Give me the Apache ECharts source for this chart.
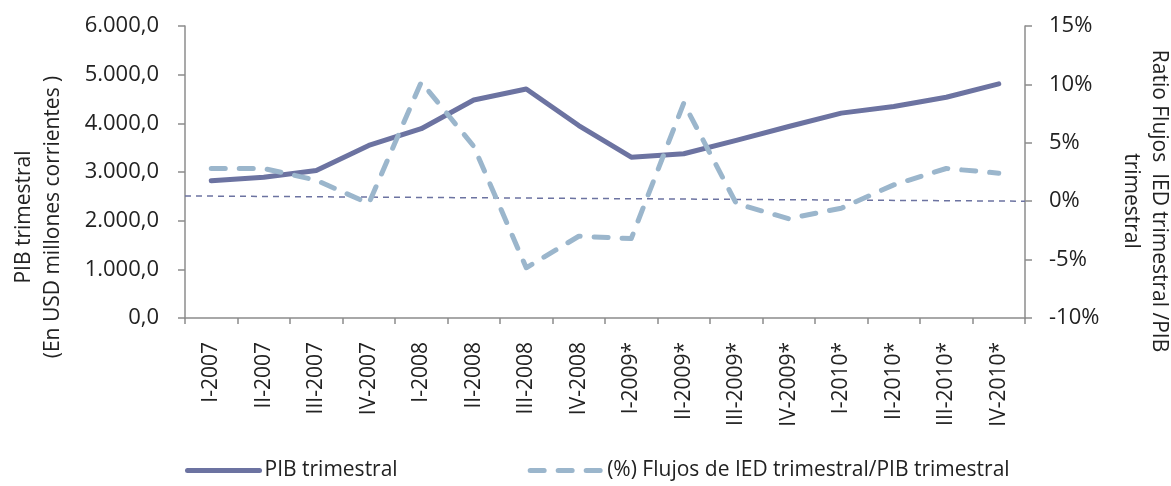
<!DOCTYPE html>
<html>
<head>
<meta charset="utf-8">
<script src="https://cdn.jsdelivr.net/npm/echarts@6/dist/echarts.min.js"></script>
<style>
  html, body { margin: 0; padding: 0; background: #fff; }
  #chart { width: 1171px; height: 486px; }
</style>
</head>
<body>
<div id="chart"></div>
<script>
// trimestres
const categories = ['I-2007', 'II-2007', 'III-2007', 'IV-2007', 'I-2008', 'II-2008', 'III-2008', 'IV-2008',
  'I-2009*', 'II-2009*', 'III-2009*', 'IV-2009*', 'I-2010*', 'II-2010*', 'III-2010*', 'IV-2010*']

// PIB trimestral (USD millones)
const pibTrimestral = [2820, 2890, 3030, 3545, 3890, 4480, 4705, 3955,
  3305, 3375, 3650, 3935, 4210, 4345, 4535, 4810]

// (%) Flujos IED / PIB
const ratioIed = [2.8, 2.8, 1.8, -0.2, 10.2, 4.7, -5.7, -3.0,
  -3.2, 8.4, -0.2, -1.5, -0.6, 1.4, 2.8, 2.4]

// linea de tendencia (extremos)
const trendX = [0, 16]
const trendY = [0.45, 0.0]

const font = '"Open Sans", "DejaVu Sans", sans-serif'
const colorPib = '#6c73a1'
const colorRatio = '#9bb6cc'
const axisGray = '#8c8c8c'

const chart = echarts.init(document.getElementById('chart'))

const fmtMiles = (v) => {
  const s = Math.round(v).toString().replace(/\B(?=(\d{3})+(?!\d))/g, '.')
  return s + ',0'
}

chart.setOption({
  animation: false,
  textStyle: { fontFamily: font },
  grid: { left: 185, right: 146, top: 26, bottom: 168, outerBoundsMode: 'none' },
  legend: {
    bottom: 0,
    left: 180,
    itemWidth: 72,
    itemHeight: 14,
    itemGap: 130,
    itemStyle: { opacity: 0 },
    textStyle: { fontSize: 21, color: '#222', fontFamily: font },
    data: [
      { name: 'PIB trimestral', lineStyle: { width: 5 } },
      { name: '(%) Flujos de IED trimestral/PIB trimestral', lineStyle: { width: 5 } }
    ]
  },
  xAxis: [
    {
      type: 'category',
      data: categories,
      boundaryGap: true,
      axisLine: { lineStyle: { color: axisGray, width: 1.5 } },
      axisTick: { show: true, length: 6, lineStyle: { color: axisGray, width: 1.5 } },
      axisLabel: { rotate: 90, fontSize: 21, color: '#222', margin: 24, fontFamily: font },
      splitLine: { show: false }
    },
    {
      type: 'value',
      min: 0,
      max: 16,
      show: false
    }
  ],
  yAxis: [
    {
      type: 'value',
      min: 0,
      max: 6000,
      interval: 1000,
      position: 'left',
      name: 'PIB trimestral\n(En USD millones corrientes )',
      nameLocation: 'middle',
      nameGap: 117,
      nameTextStyle: { fontSize: 21, color: '#222', lineHeight: 29, fontFamily: font, padding: [0, 90, 0, 0] },
      axisLine: { show: true, lineStyle: { color: axisGray, width: 1.5 } },
      axisTick: { show: true, length: 7, lineStyle: { color: axisGray, width: 1.5 } },
      axisLabel: { fontSize: 22, color: '#222', margin: 26, formatter: fmtMiles, fontFamily: font },
      splitLine: { show: false }
    },
    {
      type: 'value',
      min: -10,
      max: 15,
      interval: 5,
      position: 'right',
      name: 'Ratio Flujos  IED trimestral /PIB\ntrimestral',
      nameLocation: 'middle',
      nameRotate: -90,
      nameGap: 92,
      nameTextStyle: { fontSize: 21, color: '#222', lineHeight: 28, fontFamily: font, padding: [0, 0, 0, 58] },
      axisLine: { show: true, lineStyle: { color: axisGray, width: 1.5 } },
      axisTick: { show: true, length: 7, lineStyle: { color: axisGray, width: 1.5 } },
      axisLabel: { fontSize: 22, color: '#222', margin: 24, formatter: '{value}%', fontFamily: font },
      splitLine: { show: false }
    }
  ],
  series: [
    {
      name: 'PIB trimestral',
      type: 'line',
      data: pibTrimestral,
      xAxisIndex: 0,
      yAxisIndex: 0,
      symbol: 'none',
      smooth: false,
      lineStyle: { color: colorPib, width: 5, cap: 'round', join: 'round' },
      itemStyle: { color: colorPib },
      z: 3
    },
    {
      name: '(%) Flujos de IED trimestral/PIB trimestral',
      type: 'line',
      data: ratioIed,
      xAxisIndex: 0,
      yAxisIndex: 1,
      symbol: 'none',
      smooth: false,
      lineStyle: { color: colorRatio, width: 5, type: [14, 14], cap: 'round', join: 'round' },
      itemStyle: { color: colorRatio },
      z: 4
    },
    {
      name: 'tendencia',
      type: 'line',
      data: trendX.map((x, i) => [x, trendY[i]]),
      xAxisIndex: 1,
      yAxisIndex: 1,
      symbol: 'none',
      lineStyle: { color: colorPib, width: 1.5, type: [6, 5] },
      z: 2
    }
  ]
})

window.addEventListener('resize', () => chart.resize())
</script>
</body>
</html>
